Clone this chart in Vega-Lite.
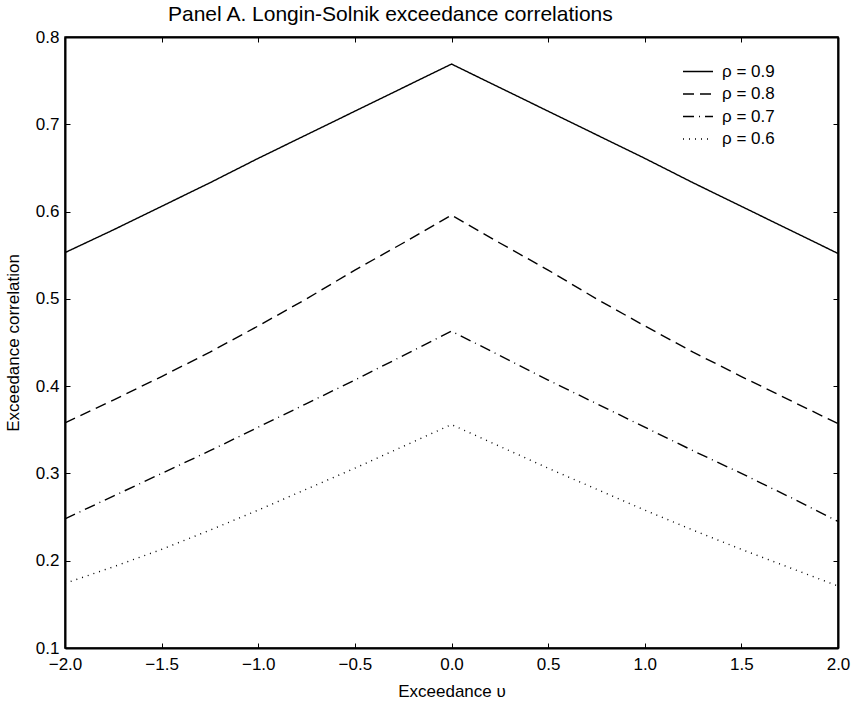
{
  "$schema": "https://vega.github.io/schema/vega-lite/v6.json",
  "width": 773,
  "height": 611,
  "autosize": {"type": "none"},
  "padding": {"left": 65, "top": 37, "right": 19, "bottom": 58},
  "config": {
    "font": "Liberation Sans",
    "view": {"stroke": "black", "strokeWidth": 1.5},
    "axis": {
      "grid": false,
      "labelFlush": false,
      "domainColor": "black",
      "domainWidth": 2,
      "tickColor": "black",
      "tickWidth": 1,
      "tickSize": -5,
      "labelColor": "black",
      "labelFontSize": 17,
      "titleColor": "black",
      "titleFontSize": 17,
      "titleFontWeight": "normal"
    }
  },
  "title": {
    "text": "Panel A. Longin-Solnik exceedance correlations",
    "anchor": "start",
    "frame": "group",
    "dx": 103,
    "offset": 3,
    "fontSize": 21,
    "fontWeight": "normal",
    "color": "black",
    "font": "Liberation Sans"
  },
  "data": {
    "values": [
      {"u": -2.0, "r": 0.553, "series": "ρ = 0.9"},
      {"u": -1.75, "r": 0.579, "series": "ρ = 0.9"},
      {"u": -1.5, "r": 0.606, "series": "ρ = 0.9"},
      {"u": -1.25, "r": 0.633, "series": "ρ = 0.9"},
      {"u": -1.0, "r": 0.661, "series": "ρ = 0.9"},
      {"u": -0.75, "r": 0.688, "series": "ρ = 0.9"},
      {"u": -0.5, "r": 0.715, "series": "ρ = 0.9"},
      {"u": -0.25, "r": 0.742, "series": "ρ = 0.9"},
      {"u": 0.0, "r": 0.769, "series": "ρ = 0.9"},
      {"u": 0.25, "r": 0.742, "series": "ρ = 0.9"},
      {"u": 0.5, "r": 0.715, "series": "ρ = 0.9"},
      {"u": 0.75, "r": 0.688, "series": "ρ = 0.9"},
      {"u": 1.0, "r": 0.661, "series": "ρ = 0.9"},
      {"u": 1.25, "r": 0.633, "series": "ρ = 0.9"},
      {"u": 1.5, "r": 0.606, "series": "ρ = 0.9"},
      {"u": 1.75, "r": 0.579, "series": "ρ = 0.9"},
      {"u": 2.0, "r": 0.552, "series": "ρ = 0.9"},
      {"u": -2.0, "r": 0.358, "series": "ρ = 0.8"},
      {"u": -1.75, "r": 0.384, "series": "ρ = 0.8"},
      {"u": -1.5, "r": 0.411, "series": "ρ = 0.8"},
      {"u": -1.25, "r": 0.439, "series": "ρ = 0.8"},
      {"u": -1.0, "r": 0.469, "series": "ρ = 0.8"},
      {"u": -0.75, "r": 0.5, "series": "ρ = 0.8"},
      {"u": -0.5, "r": 0.533, "series": "ρ = 0.8"},
      {"u": -0.25, "r": 0.564, "series": "ρ = 0.8"},
      {"u": 0.0, "r": 0.596, "series": "ρ = 0.8"},
      {"u": 0.25, "r": 0.564, "series": "ρ = 0.8"},
      {"u": 0.5, "r": 0.533, "series": "ρ = 0.8"},
      {"u": 0.75, "r": 0.5, "series": "ρ = 0.8"},
      {"u": 1.0, "r": 0.469, "series": "ρ = 0.8"},
      {"u": 1.25, "r": 0.439, "series": "ρ = 0.8"},
      {"u": 1.5, "r": 0.411, "series": "ρ = 0.8"},
      {"u": 1.75, "r": 0.384, "series": "ρ = 0.8"},
      {"u": 2.0, "r": 0.357, "series": "ρ = 0.8"},
      {"u": -2.0, "r": 0.248, "series": "ρ = 0.7"},
      {"u": -1.75, "r": 0.274, "series": "ρ = 0.7"},
      {"u": -1.5, "r": 0.3, "series": "ρ = 0.7"},
      {"u": -1.25, "r": 0.326, "series": "ρ = 0.7"},
      {"u": -1.0, "r": 0.353, "series": "ρ = 0.7"},
      {"u": -0.75, "r": 0.38, "series": "ρ = 0.7"},
      {"u": -0.5, "r": 0.407, "series": "ρ = 0.7"},
      {"u": -0.25, "r": 0.435, "series": "ρ = 0.7"},
      {"u": 0.0, "r": 0.463, "series": "ρ = 0.7"},
      {"u": 0.25, "r": 0.435, "series": "ρ = 0.7"},
      {"u": 0.5, "r": 0.407, "series": "ρ = 0.7"},
      {"u": 0.75, "r": 0.38, "series": "ρ = 0.7"},
      {"u": 1.0, "r": 0.353, "series": "ρ = 0.7"},
      {"u": 1.25, "r": 0.326, "series": "ρ = 0.7"},
      {"u": 1.5, "r": 0.3, "series": "ρ = 0.7"},
      {"u": 1.75, "r": 0.273, "series": "ρ = 0.7"},
      {"u": 2.0, "r": 0.245, "series": "ρ = 0.7"},
      {"u": -2.0, "r": 0.174, "series": "ρ = 0.6"},
      {"u": -1.75, "r": 0.193, "series": "ρ = 0.6"},
      {"u": -1.5, "r": 0.213, "series": "ρ = 0.6"},
      {"u": -1.25, "r": 0.235, "series": "ρ = 0.6"},
      {"u": -1.0, "r": 0.258, "series": "ρ = 0.6"},
      {"u": -0.75, "r": 0.282, "series": "ρ = 0.6"},
      {"u": -0.5, "r": 0.306, "series": "ρ = 0.6"},
      {"u": -0.25, "r": 0.331, "series": "ρ = 0.6"},
      {"u": 0.0, "r": 0.356, "series": "ρ = 0.6"},
      {"u": 0.25, "r": 0.331, "series": "ρ = 0.6"},
      {"u": 0.5, "r": 0.306, "series": "ρ = 0.6"},
      {"u": 0.75, "r": 0.282, "series": "ρ = 0.6"},
      {"u": 1.0, "r": 0.258, "series": "ρ = 0.6"},
      {"u": 1.25, "r": 0.235, "series": "ρ = 0.6"},
      {"u": 1.5, "r": 0.213, "series": "ρ = 0.6"},
      {"u": 1.75, "r": 0.192, "series": "ρ = 0.6"},
      {"u": 2.0, "r": 0.171, "series": "ρ = 0.6"}
    ]
  },
  "layer": [
    {
      "mark": {"type": "line", "color": "black", "strokeWidth": 1.4},
      "encoding": {
        "x": {
          "field": "u",
          "type": "quantitative",
          "scale": {"domain": [-2, 2], "nice": false, "zero": false},
          "axis": {
            "orient": "bottom",
            "title": "Exceedance υ",
            "values": [-2, -1.5, -1, -0.5, 0, 0.5, 1, 1.5, 2],
            "format": ".1f",
            "labelPadding": 13,
            "titlePadding": 11
          }
        },
        "y": {
          "field": "r",
          "type": "quantitative",
          "scale": {"domain": [0.1, 0.8], "nice": false, "zero": false},
          "axis": {
            "orient": "left",
            "title": "Exceedance correlation",
            "values": [0.1, 0.2, 0.3, 0.4, 0.5, 0.6, 0.7, 0.8],
            "format": ".1f",
            "labelPadding": 11,
            "titlePadding": 13
          }
        },
        "strokeDash": {
          "field": "series",
          "type": "nominal",
          "scale": {
            "domain": ["ρ = 0.9", "ρ = 0.8", "ρ = 0.7", "ρ = 0.6"],
            "range": [[1, 0], [11, 6], [11, 5, 1, 5], [1, 5]]
          },
          "legend": {
            "title": null,
            "orient": "none",
            "legendX": 617,
            "legendY": 26,
            "symbolType": "stroke",
            "symbolSize": 900,
            "symbolStrokeWidth": 1.5,
            "symbolStrokeColor": "black",
            "labelFontSize": 17,
            "labelColor": "black",
            "labelOffset": 8,
            "clipHeight": 17,
            "rowPadding": 4.5
          }
        }
      }
    },
    {
      "mark": {"type": "line", "opacity": 0},
      "encoding": {
        "x": {
          "field": "u",
          "type": "quantitative",
          "axis": {
            "orient": "top",
            "title": null,
            "labels": false,
            "values": [-2, -1.5, -1, -0.5, 0, 0.5, 1, 1.5, 2]
          }
        },
        "y": {
          "field": "r",
          "type": "quantitative",
          "axis": {
            "orient": "right",
            "title": null,
            "labels": false,
            "values": [0.1, 0.2, 0.3, 0.4, 0.5, 0.6, 0.7, 0.8]
          }
        },
        "detail": {"field": "series", "type": "nominal"}
      }
    }
  ],
  "resolve": {"axis": {"x": "independent", "y": "independent"}}
}
